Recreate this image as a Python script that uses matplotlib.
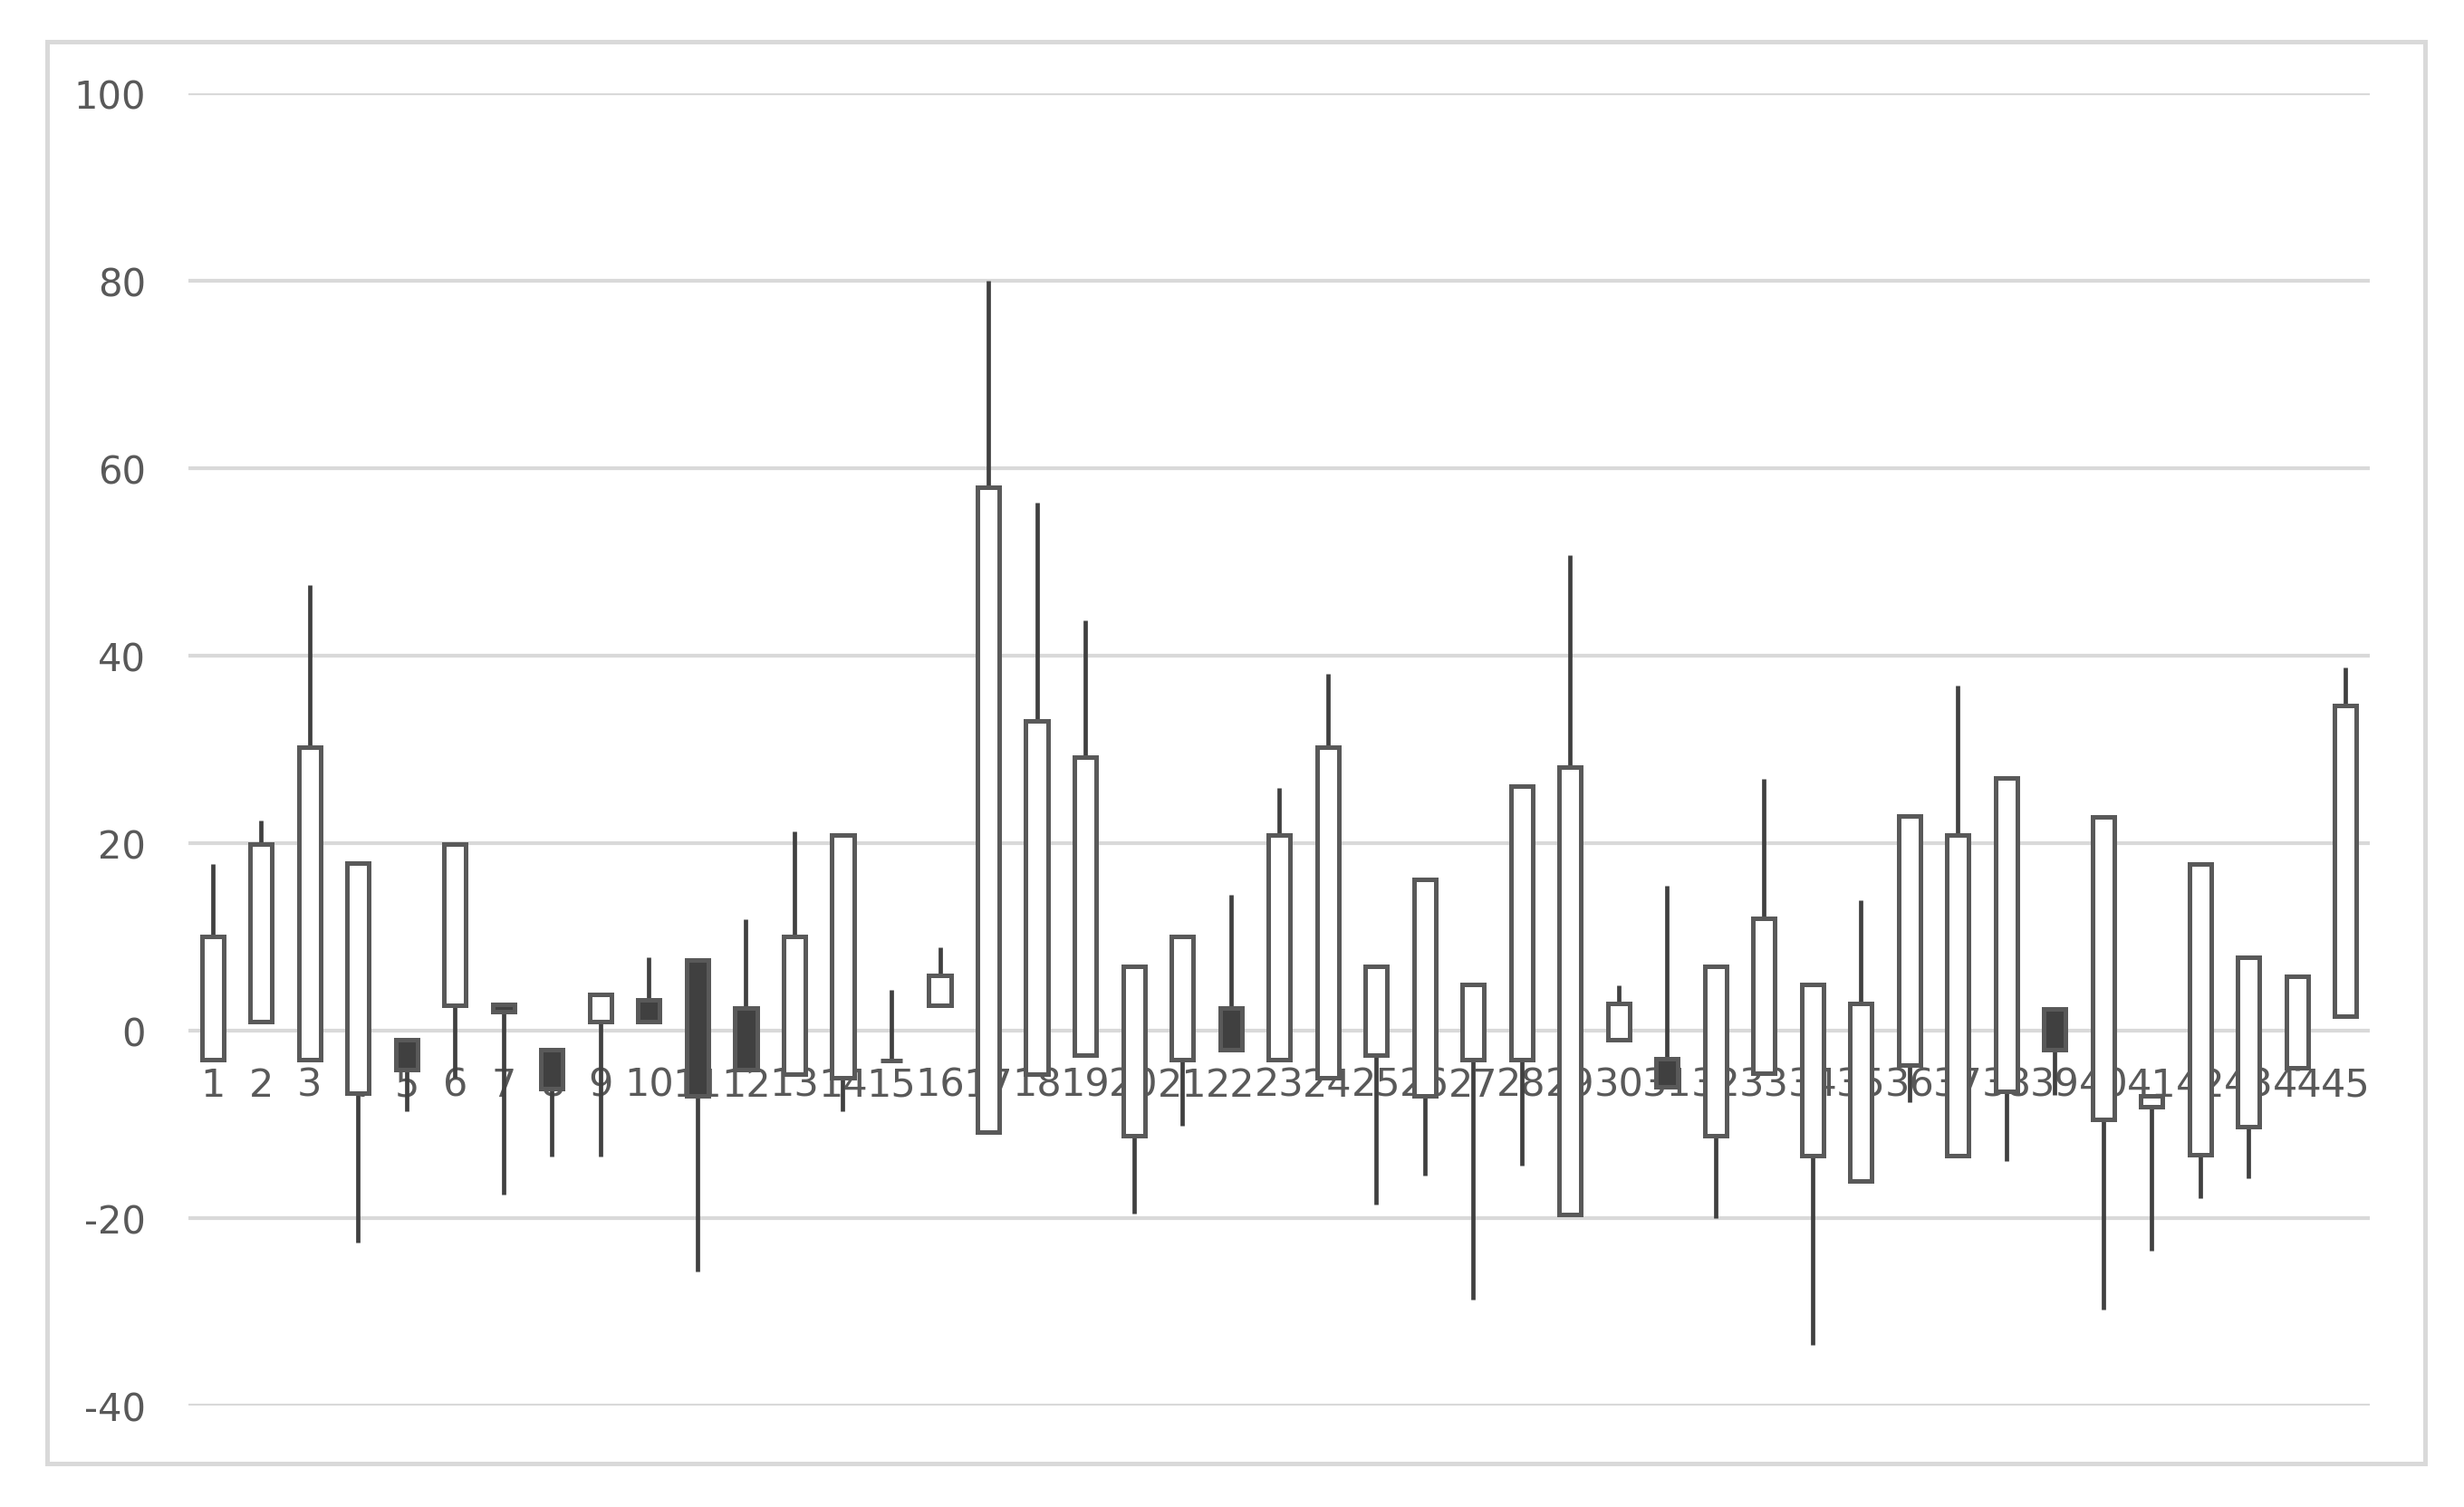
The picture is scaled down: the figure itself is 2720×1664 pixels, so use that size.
import matplotlib
matplotlib.use('Agg')
import matplotlib.pyplot as plt
from matplotlib.patches import Rectangle
import numpy as np

# === DATA (open / high / low / close per candle) ===
labels = [str(i) for i in range(1, 46)]
opens = [-3.1, 1.0, -3.1, -6.7, -1.0, 2.7, 2.8, -2.0, 1.0, 3.3,
         7.5, 2.4, -4.6, -5.0, -3.2, 2.7, -10.8, -4.6, -2.6, -11.2,
         -3.1, 2.4, -3.1, -5.0, -2.6, -7.0, -3.1, -3.1, -19.6, -1.0,
         -3.0, -11.2, -4.5, -13.3, -16.0, -3.7, -13.3, -6.5, 2.3, -9.5,
         -8.1, -13.2, -10.2, -4.0, 1.5]
highs = [17.8, 22.4, 47.5, 17.9, -1.0, 19.9, 2.8, -2.0, 3.9, 7.8,
         7.5, 11.9, 21.3, 20.9, 4.3, 8.9, 80.0, 56.3, 43.8, 6.9,
         10.0, 14.5, 25.9, 38.1, 6.9, 16.1, 4.9, 26.1, 50.7, 4.8,
         15.5, 6.9, 26.9, 4.9, 13.9, 22.9, 36.8, 27.0, 2.3, 22.8,
         -7.0, 17.8, 7.8, 5.8, 38.7]
lows = [-3.1, 1.0, -3.1, -22.6, -8.6, -5.0, -17.5, -13.4, -13.4, 1.0,
        -25.7, -4.2, -4.6, -8.6, -3.2, 2.7, -10.8, -4.6, -2.6, -19.5,
        -10.1, -2.0, -3.1, -5.0, -18.6, -15.5, -28.7, -14.4, -19.6, -1.0,
        -6.0, -20.0, -4.5, -33.5, -16.0, -7.6, -13.3, -13.9, -6.9, -29.8,
        -23.5, -17.9, -15.8, -4.3, 1.5]
closes = [10.0, 19.9, 30.2, 17.9, -4.2, 19.9, 2.0, -6.2, 3.9, 1.0,
          -7.0, -4.2, 10.0, 20.9, -3.2, 5.9, 58.0, 33.0, 29.2, 6.9,
          10.0, -2.0, 20.9, 30.2, 6.9, 16.1, 4.9, 26.1, 28.1, 2.85,
          -6.0, 6.9, 12.0, 4.9, 2.85, 22.9, 20.9, 27.0, -2.0, 22.8,
          -7.0, 17.8, 7.8, 5.8, 34.7]

y_ticks = [-40, -20, 0, 20, 40, 60, 80, 100]

TEXT = '#595959'
GRID = '#D9D9D9'
DARK = '#404040'

plt.rcParams['font.family'] = ['DejaVu Sans']

fig = plt.figure(figsize=(13.6, 8.325), dpi=200)

# outer chart border
fig.patches.append(Rectangle((0.0191, 0.0288), 0.9651, 0.943, transform=fig.transFigure,
                             fill=False, edgecolor=GRID, linewidth=1.8))

ax = fig.add_axes([0.0765, 0.0673, 0.8853, 0.8702])

x = np.arange(1, len(labels) + 1)
o = np.array(opens)
c = np.array(closes)

ax.vlines(x, lows, highs, color=DARK, linewidth=1.7, zorder=2)
up = c >= o
ax.bar(x, np.abs(c - o), bottom=np.minimum(o, c), width=0.45,
       color=np.where(up, 'white', DARK), edgecolor=TEXT, linewidth=1.8, zorder=3)

ax.set_xlim(0.5, len(labels) + 0.5)
ax.set_ylim(-40, 100)
ax.set_yticks(y_ticks)
ax.set_yticklabels([str(v) for v in y_ticks])
ax.set_xticks(x)
ax.set_xticklabels(labels)

ax.yaxis.grid(True, color=GRID, linewidth=1.5)
ax.set_axisbelow(True)
for s in ['top', 'right', 'left']:
    ax.spines[s].set_visible(False)
ax.spines['bottom'].set_position(('data', 0))
ax.spines['bottom'].set_color('none')

ax.tick_params(axis='x', length=0, pad=14, labelsize=15.5, colors=TEXT)
ax.tick_params(axis='y', length=0, pad=17, labelsize=15, colors=TEXT)

fig.savefig('out.png', dpi=200)
